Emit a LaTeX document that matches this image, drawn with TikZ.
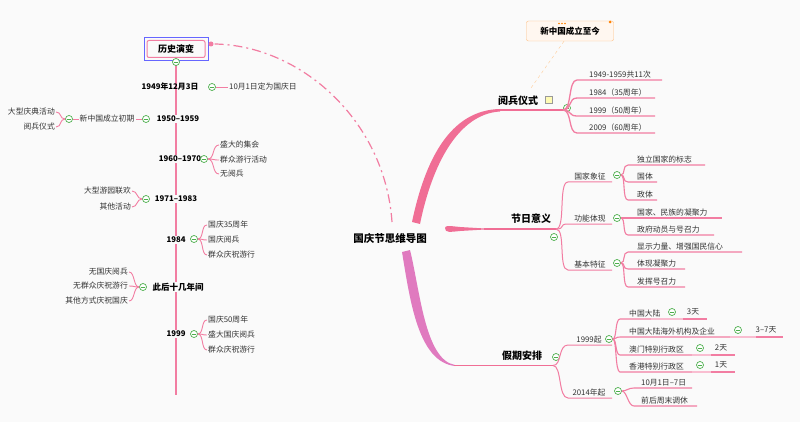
\documentclass[tikz,border=0pt]{standalone}
\usepackage{fontspec}
\setmainfont{Noto Sans CJK SC}
\begin{document}
\begin{tikzpicture}[x=1pt,y=-1pt,
  lk/.style={draw=pink1,line width=0.9pt},
  ul/.style={draw=pink1,line width=1.3pt},
  sm/.style={font=\fontsize{7.8}{9}\selectfont,inner sep=1pt,text=black!80},
  yr/.style={font=\fontsize{7.8}{9}\selectfont\bfseries,inner sep=1pt},
  big/.style={font=\fontsize{10}{12}\selectfont\bfseries,inner sep=1pt},
  mc/.style={circle,draw=green!55!black!70,fill=white,line width=0.7pt,inner sep=0,minimum size=7pt,
    path picture={\draw[green!55!black!70,line width=0.7pt] ([xshift=-2pt]path picture bounding box.center)--([xshift=2pt]path picture bounding box.center);}}]
\definecolor{pink1}{HTML}{F27DA2}
\definecolor{pink2}{HTML}{F06E95}
\definecolor{purp}{HTML}{E07ABF}
\useasboundingbox (0,0) rectangle (800,422);
\fill[black!2] (0,0) rectangle (800,422);
% center
\node[font=\fontsize{10.5}{12}\selectfont\bfseries] (c) at (390,238) {国庆节思维导图};
% ===== left: history
\node[draw=blue!60,line width=1pt,minimum width=64pt,minimum height=23pt,inner sep=0] (hbox) at (176,49) {};
\node[draw=pink1,rounded corners=2pt,line width=1pt,minimum width=58pt,minimum height=17pt,font=\fontsize{9}{11}\selectfont\bfseries] (h) at (176,49) {历史演变};
\draw[pink1,line width=1.2pt,dash pattern=on 9pt off 4pt on 2pt off 4pt] (392,222) .. controls (385,120) and (300,45) .. (214,44);
\fill[pink1] (211,44) circle (2.5pt);
\coordinate (vb) at (176,395);
\draw[lk,line width=1.3pt] (176,62) -- (vb);
\node[mc] (hc) at (176,62) {};
% 1949
\node[yr] (y49) at (170,87) {1949年12月3日};
\node[mc] (m49) at (212,87) {};
\node[sm,anchor=west] (t49) at (228,87) {10月1日定为国庆日};
\draw[lk] (m49) -- (t49);
% 1950
\node[yr,fill=black!2] (y50) at (178,119) {1950--1959};
\node[mc] (m50) at (146,119) {};
\node[sm] (t50) at (107,119) {新中国成立初期};
\node[mc] (m50b) at (69,119) {};
\draw[lk] (m50) -- (t50); \draw[lk] (t50) -- (m50b);
\node[sm,anchor=east] (a1) at (56,112) {大型庆典活动};
\node[sm,anchor=east] (a2) at (56,127) {阅兵仪式};
\foreach \n in {a1,a2} \draw[lk] (m50b.west) .. controls +(-6,0) and +(6,0) .. (\n.east);
% 1960
\node[yr,fill=black!2] (y60) at (180,159) {1960--1970};
\node[mc] (m60) at (204,159) {};
\node[sm,anchor=west] (b1) at (219,145) {盛大的集会};
\node[sm,anchor=west] (b2) at (219,160) {群众游行活动};
\node[sm,anchor=west] (b3) at (219,174) {无阅兵};
\foreach \n in {b1,b2,b3} \draw[lk] (m60.east) .. controls +(7,0) and +(-7,0) .. (\n.west);
% 1971
\node[yr,fill=black!2] (y71) at (176,199) {1971--1983};
\node[mc] (m71) at (146,199) {};
\node[sm,anchor=east] (c1) at (132,191) {大型游园联欢};
\node[sm,anchor=east] (c2) at (132,207) {其他活动};
\foreach \n in {c1,c2} \draw[lk] (m71.west) .. controls +(-6,0) and +(6,0) .. (\n.east);
% 1984
\node[yr,fill=black!2] (y84) at (176,240) {1984};
\node[mc] (m84) at (194,239) {};
\node[sm,anchor=west] (d1) at (207,225) {国庆35周年};
\node[sm,anchor=west] (d2) at (207,240) {国庆阅兵};
\node[sm,anchor=west] (d3) at (207,255) {群众庆祝游行};
\foreach \n in {d1,d2,d3} \draw[lk] (m84.east) .. controls +(6,0) and +(-6,0) .. (\n.west);
% later
\node[font=\fontsize{8.5}{10}\selectfont\bfseries,inner sep=1pt,fill=black!2] (y90) at (178,287) {此后十几年间};
\node[mc] (m90) at (143,287) {};
\node[sm,anchor=east] (e1) at (129,272) {无国庆阅兵};
\node[sm,anchor=east] (e2) at (129,286) {无群众庆祝游行};
\node[sm,anchor=east] (e3) at (129,301) {其他方式庆祝国庆};
\foreach \n in {e1,e2,e3} \draw[lk] (m90.west) .. controls +(-6,0) and +(6,0) .. (\n.east);
% 1999
\node[yr,fill=black!2] (y99) at (176,334) {1999};
\node[mc] (m99) at (194,334) {};
\node[sm,anchor=west] (f1) at (207,320) {国庆50周年};
\node[sm,anchor=west] (f2) at (207,335) {盛大国庆阅兵};
\node[sm,anchor=west] (f3) at (207,350) {群众庆祝游行};
\foreach \n in {f1,f2,f3} \draw[lk] (m99.east) .. controls +(6,0) and +(-6,0) .. (\n.west);
% ===== right top: 阅兵仪式
\fill[pink2] (412,222) .. controls (425,160) and (450,110) .. (500,109) -- (500,111.5) .. controls (458,114) and (432,165) .. (420,224) -- cycle;
\node[big] (p) at (518,101) {阅兵仪式};
\draw[ul,pink2,line width=1.6pt] (498,110) -- (563,110);
\node[draw=black!40,fill=yellow!30,minimum size=7pt,inner sep=0] (pic) at (549,100) {};
\node[mc] (mp) at (567,108) {};
\node[draw=orange!50,fill=orange!6,rounded corners=2pt,font=\fontsize{8.5}{10}\selectfont\bfseries,minimum width=87pt,minimum height=20pt] (note) at (570,31) {新中国成立至今};
\foreach \dx in {-3,0,3} \fill[orange] (562+\dx,23.5) circle (0.9pt);
\fill[orange] (610,22) circle (1.5pt);
\draw[orange!40,dashed] ([xshift=-6pt]note.south) -- (531,88);
\foreach \n/\t/\yy/\e in {g1/1949-1959共11次/80/662,g2/1984（35周年）/98/655,g3/1999（50周年）/116/655,g4/2009（60周年）/133/655}{
  \node[sm,anchor=south west] (\n) at (588,\yy-1) {\t};
  \draw[ul] (563,110) .. controls (572,110) and (568,\yy) .. (577,\yy) -- (\e,\yy);
}
% ===== right middle: 节日意义
\fill[pink2] (445,228) .. controls (445,233) and (450,232) .. (460,231) -- (485,229.5) -- (485,228.5) -- (460,227) .. controls (450,226) and (445,225) .. (445,228) -- cycle;
\draw[ul,pink2] (484,229) -- (556,229);
\node[big] (m) at (531,219) {节日意义};
\node[mc] (mm) at (554,237) {};
\foreach \n/\t/\yy/\cx/\cy in {h1/国家象征/182/617/175,h2/功能体现/224/617/218,h3/基本特征/270/617/263}{
  \node[sm,anchor=south] (\n) at (590,\yy-1) {\t};
  \draw[ul,line width=1pt] (556,229) .. controls (566,229) and (558,\yy) .. (568,\yy) -- (612,\yy);
  \node[mc] (\n m) at (\cx,\cy) {};
}
\foreach \n/\t/\yy/\e/\p in {i1/独立国家的标志/165/705/h1m,i2/国体/182/657/h1m,i3/政体/200/657/h1m,
  i4/国家、民族的凝聚力/218/722/h2m,i5/政府动员与号召力/235/714/h2m,
  i6/显示力量、增强国民信心/252/742/h3m,i7/体现凝聚力/269/685/h3m,i8/发挥号召力/287/685/h3m}{
  \node[sm,anchor=south west] (\n) at (636,\yy-1) {\t};
  \draw[ul,line width=1.1pt] (\p.east) .. controls +(5,0) and +(-6,0) .. (628,\yy) -- (\e,\yy);
}
% ===== right bottom: 假期安排
\fill[purp] (410,250) .. controls (420,290) and (425,360) .. (455,365) -- (455,366) .. controls (418,362) and (410,300) .. (402,252) -- cycle;
\draw[ul,pink2,line width=1.6pt] (454,365.5) -- (553,365.5);
\node[big] (v) at (522,356) {假期安排};
\node[mc] (mv) at (556,357) {};
\node[sm,anchor=south] (j1) at (589,344) {1999起};
\node[sm,anchor=south] (j2) at (589,397) {2014年起};
\draw[ul,line width=1pt] (553,365.5) .. controls (562,365.5) and (558,345) .. (568,345) -- (612,345);
\draw[ul,line width=1pt] (553,365.5) .. controls (562,365.5) and (558,398) .. (568,398) -- (612,398);
\node[mc] (j1m) at (609,339) {};
\node[mc] (j2m) at (618,391) {};
\foreach \n/\t/\yy/\e/\cx/\v/\vx/\ve in {k1/中国大陆/319/651/672/3天/693/707,k2/中国大陆海外机构及企业/337/730/738/3--7天/766/783,k3/澳门特别行政区/355/692/700/2天/721/735,k4/香港特别行政区/372/692/700/1天/721/735}{
  \node[sm,anchor=south west] (\n) at (628,\yy-1) {\t};
  \draw[ul,line width=1.1pt] (j1m.east) .. controls +(4,0) and +(-5,0) .. (620,\yy) -- (\e,\yy);
  \draw[ul,line width=1.1pt,pink1!50] (\e,\yy) -- (\vx-10,\yy);
  \draw[ul,line width=1.1pt] (\vx-10,\yy) -- (\ve,\yy);
  \node[mc] (\n m) at (\cx,\yy-7) {};
  \node[sm] (\n v) at (\vx,\yy-7) {\v};
}
\foreach \n/\t/\yy/\e in {l1/10月1日--7日/388/692,l2/前后周末调休/406/697}{
  \node[sm,anchor=south west] (\n) at (640,\yy-1) {\t};
  \draw[ul,line width=1.1pt] (j2m.east) .. controls +(5,0) and +(-6,0) .. (634,\yy) -- (\e,\yy);
}
\end{tikzpicture}
\end{document}
